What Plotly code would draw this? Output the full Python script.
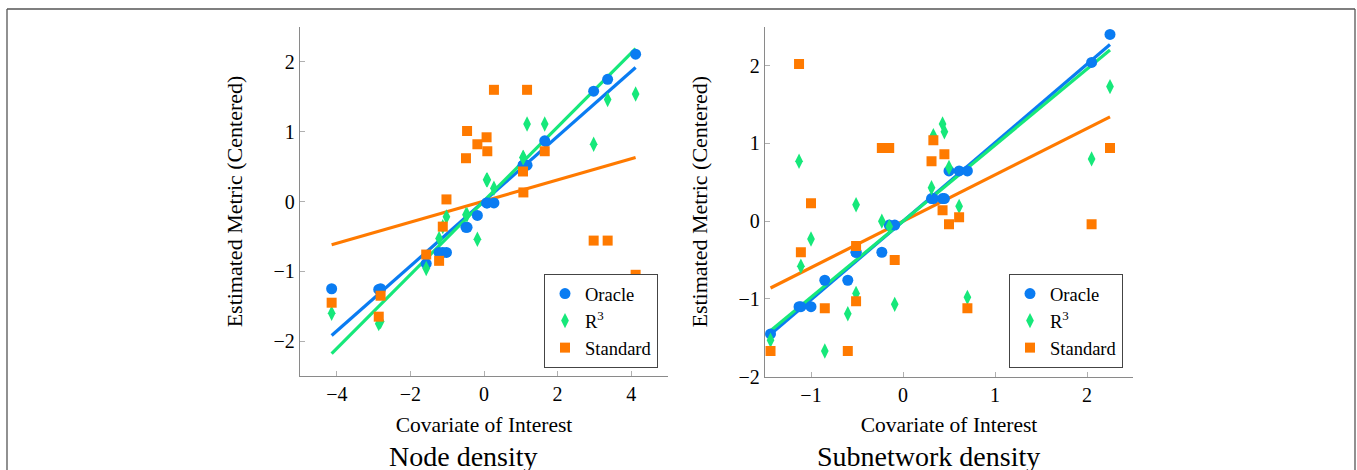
import plotly.graph_objects as go

# ---------------- data ----------------
# Node density panel
node_x = [-4.14, -2.86, -2.81, -1.57, -1.22, -1.12, -1.02, -0.49, -0.46, -0.18,
          0.07, 0.09, 0.27, 1.06, 1.07, 1.17, 1.65, 2.98, 3.36, 4.12]
node_oracle = [-1.25, -1.26, -1.25, -0.89, -0.73, -0.73, -0.73, -0.37, -0.37, -0.20,
               -0.02, -0.02, -0.02, 0.52, 0.52, 0.52, 0.87, 1.58, 1.75, 2.11]
node_r3 = [-1.60, -1.75, -1.72, -0.96, -0.53, -0.36, -0.22, -0.19, -0.19, -0.54,
           0.31, 0.31, 0.19, 0.63, 0.63, 1.11, 1.11, 0.82, 1.46, 1.54]
node_std = [-1.45, -1.65, -1.35, -0.76, -0.85, -0.36, 0.03, 0.62, 1.01, 0.82,
            0.92, 0.72, 1.60, 0.43, 0.13, 1.60, 0.72, -0.56, -0.56, -1.05]
node_fit_x = [-4.14, 4.12]
node_fit_oracle = [-1.92, 1.92]
node_fit_r3 = [-2.18, 2.19]
node_fit_std = [-0.62, 0.63]

# Subnetwork density panel
sub_x = [-1.44, -1.13, -1.11, -1.00, -0.85, -0.60, -0.51, -0.51, -0.23, -0.15,
         -0.09, 0.31, 0.33, 0.43, 0.45, 0.50, 0.61, 0.70, 2.05, 2.25]
sub_oracle = [-1.45, -1.10, -1.10, -1.10, -0.76, -0.76, -0.40, -0.40, -0.40, -0.05,
              -0.05, 0.29, 0.29, 0.29, 0.29, 0.645, 0.645, 0.645, 2.04, 2.40]
sub_r3 = [-1.53, 0.77, -0.58, -0.23, -1.67, -1.19, 0.21, -0.93, 0.00, -0.07,
          -1.07, 0.43, 1.10, 1.25, 1.15, 0.69, 0.19, -0.98, 0.80, 1.73]
sub_std = [-1.67, 2.02, -0.40, 0.23, -1.12, -1.67, -0.32, -1.03, 0.94, 0.94,
           -0.50, 0.77, 1.04, 0.14, 0.86, -0.04, 0.05, -1.12, -0.04, 0.94]
sub_fit_x = [-1.44, 2.25]
sub_fit_oracle = [-1.455, 2.27]
sub_fit_r3 = [-1.41, 2.20]
sub_fit_std = [-0.86, 1.34]

series_names = ["Oracle", "R<sup>3</sup>", "Standard"]
x_ticks_node = [-4, -2, 0, 2, 4]
x_ticks_sub = [-1, 0, 1, 2]
y_ticks = [-2, -1, 0, 1, 2]
panel_titles = ["Node density", "Subnetwork density"]
x_title = "Covariate of Interest"
y_title = "Estimated Metric (Centered)"

# ---------------- style ----------------
BLUE = "rgb(10,124,242)"
GREEN = "rgb(22,232,122)"
ORANGE = "rgb(255,122,0)"
FONT = "Liberation Serif, Times New Roman, serif"
W, H = 1357, 470  # reference canvas, used for fractional placement
FIG_H = 481

fig = go.Figure()

panels = [
    (node_x, node_oracle, node_r3, node_std, node_fit_x,
     node_fit_oracle, node_fit_r3, node_fit_std, "x", "y", "legend"),
    (sub_x, sub_oracle, sub_r3, sub_std, sub_fit_x,
     sub_fit_oracle, sub_fit_r3, sub_fit_std, "x2", "y2", "legend2"),
]

for (px, po, pr, ps, fx, fo, fr, fs, xa, ya, lg) in panels:
    for fy, col in [(fs, ORANGE), (fo, BLUE), (fr, GREEN)]:
        fig.add_trace(go.Scatter(x=fx, y=fy, mode="lines", line=dict(color=col, width=3.2),
                                 xaxis=xa, yaxis=ya, showlegend=False, hoverinfo="skip"))
    fig.add_trace(go.Scatter(x=px, y=po, mode="markers", name=series_names[0],
                             marker=dict(symbol="circle", size=11, color=BLUE),
                             xaxis=xa, yaxis=ya, legend=lg))
    fig.add_trace(go.Scatter(x=px, y=pr, mode="markers", name=series_names[1],
                             marker=dict(symbol="diamond-tall", size=11, color=GREEN),
                             xaxis=xa, yaxis=ya, legend=lg))
    fig.add_trace(go.Scatter(x=px, y=ps, mode="markers", name=series_names[2],
                             marker=dict(symbol="square", size=10, color=ORANGE),
                             xaxis=xa, yaxis=ya, legend=lg))

axis_common = dict(showline=True, linecolor="#8a8a8a", linewidth=1.3, ticks="inside",
                   ticklen=5, tickcolor="#b0b0b0", tickwidth=1, showgrid=False,
                   zeroline=False, tickfont=dict(size=20, family=FONT, color="black"))

legend_style = dict(xanchor="right", yanchor="bottom", bordercolor="#444", borderwidth=1,
                    bgcolor="white", font=dict(size=18.5, family=FONT), tracegroupgap=0,
                    itemwidth=30)

frame_color = "#555"
fig.update_layout(
    width=W, height=FIG_H, margin=dict(l=0, r=0, t=0, b=0),
    plot_bgcolor="white", paper_bgcolor="white",
    font=dict(family=FONT, size=20, color="black"),
    xaxis=dict(domain=[300 / W, 668 / W], range=[-5, 5], tickvals=x_ticks_node, anchor="y",
               title=dict(text=x_title, font=dict(size=21.5), standoff=12), **axis_common),
    yaxis=dict(domain=[1 - 376 / H, 1 - 27 / H], range=[-2.5, 2.5], tickvals=y_ticks, anchor="x",
               title=dict(text=y_title, font=dict(size=22), standoff=24), **axis_common),
    xaxis2=dict(domain=[765 / W, 1133 / W], range=[-1.5, 2.5], tickvals=x_ticks_sub, anchor="y2",
                title=dict(text=x_title, font=dict(size=21.5), standoff=12), **axis_common),
    yaxis2=dict(domain=[1 - 376.7 / H, 1 - 26.7 / H], range=[-2, 2.5], tickvals=y_ticks, anchor="x2",
                title=dict(text=y_title, font=dict(size=22), standoff=24), **axis_common),
    legend=dict(x=658 / W, y=1 - 368 / H, **legend_style),
    legend2=dict(x=1123 / W, y=1 - 368 / H, **legend_style),
    shapes=[
        dict(type="line", xref="paper", yref="paper", x0=7 / W, x1=1355 / W,
             y0=1 - 9 / H, y1=1 - 9 / H, line=dict(color=frame_color, width=1.3)),
        dict(type="line", xref="paper", yref="paper", x0=7 / W, x1=7 / W,
             y0=0, y1=1 - 9 / H, line=dict(color=frame_color, width=1.3)),
        dict(type="line", xref="paper", yref="paper", x0=1355 / W, x1=1355 / W,
             y0=0, y1=1 - 9 / H, line=dict(color=frame_color, width=1.3)),
    ],
    annotations=[
        dict(text=panel_titles[0], x=463 / W, y=1 - 456 / H, xref="paper", yref="paper",
             showarrow=False, xanchor="center", yanchor="middle", font=dict(size=28, family=FONT)),
        dict(text=panel_titles[1], x=928 / W, y=1 - 456 / H, xref="paper", yref="paper",
             showarrow=False, xanchor="center", yanchor="middle", font=dict(size=28, family=FONT)),
    ],
)

fig.write_html(
    "out.html", config={"displayModeBar": False},
    post_script=("document.body.style.margin='0';document.body.style.overflow='hidden';"
                 "document.documentElement.style.overflow='hidden';"))
